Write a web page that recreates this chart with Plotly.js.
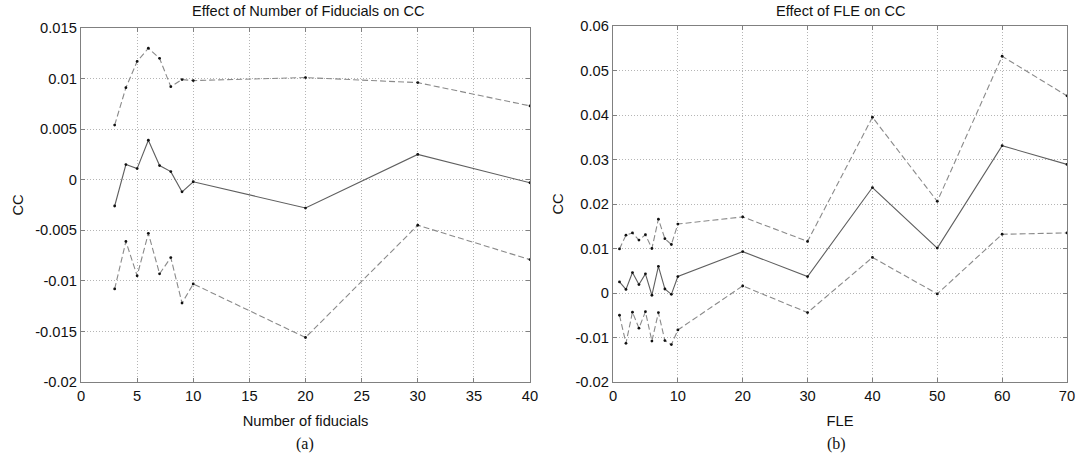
<!DOCTYPE html>
<html>
<head>
<meta charset="utf-8">
<script src="https://cdn.plot.ly/plotly-3.0.1.min.js"></script>
<style>html,body{margin:0;padding:0;background:#fff;}#chart{width:1083px;height:459px;}</style>
</head>
<body>
<div id="chart"></div>
<script>
// Panel (a): effect of number of fiducials
const fidX = [3, 4, 5, 6, 7, 8, 9, 10, 20, 30, 40];
const fidUpper = [0.0054, 0.0091, 0.0117, 0.0130, 0.0120, 0.0092, 0.0099, 0.0098, 0.0101, 0.0096, 0.0073];
const fidMean  = [-0.0026, 0.0015, 0.0011, 0.0039, 0.0014, 0.0008, -0.0012, -0.0002, -0.0028, 0.0025, -0.0003];
const fidLower = [-0.0108, -0.0061, -0.0095, -0.0053, -0.0093, -0.0077, -0.0122, -0.0103, -0.0156, -0.0045, -0.0079];

// Panel (b): effect of FLE
const fleX = [1, 2, 3, 4, 5, 6, 7, 8, 9, 10, 20, 30, 40, 50, 60, 70];
const fleUpper = [0.0099, 0.0130, 0.0135, 0.0119, 0.0131, 0.0100, 0.0166, 0.0122, 0.0109, 0.0155, 0.0171, 0.0116, 0.0395, 0.0206, 0.0532, 0.0443];
const fleMean  = [0.0025, 0.0008, 0.0046, 0.0019, 0.0043, -0.0005, 0.0060, 0.0009, -0.0003, 0.0037, 0.0093, 0.0037, 0.0237, 0.0101, 0.0331, 0.0289];
const fleLower = [-0.0050, -0.0113, -0.0043, -0.0079, -0.0042, -0.0108, -0.0044, -0.0107, -0.0116, -0.0083, 0.0016, -0.0044, 0.0080, -0.0002, 0.0132, 0.0135];

const fidTicks = [0, 5, 10, 15, 20, 25, 30, 35, 40];
const fidYTicks = [-0.02, -0.015, -0.01, -0.005, 0, 0.005, 0.01, 0.015];
const fidYText = ['-0.02', '-0.015', '-0.01', '-0.005', '0', '0.005', '0.01', '0.015'];
const fleTicks = [0, 10, 20, 30, 40, 50, 60, 70];
const fleYTicks = [-0.02, -0.01, 0, 0.01, 0.02, 0.03, 0.04, 0.05, 0.06];
const fleYText = ['-0.02', '-0.01', '0', '0.01', '0.02', '0.03', '0.04', '0.05', '0.06'];

const dashLine = {color: '#8a8a8a', width: 1.1, dash: '6px,3px'};
const solidLine = {color: '#5f5f5f', width: 1.1};
const mk = {color: '#111', size: 2.8};

function tr(x, y, line, xa, ya) {
  return {x: x, y: y, mode: 'lines+markers', line: line, marker: mk, xaxis: xa, yaxis: ya, showlegend: false, hoverinfo: 'x+y'};
}

const data = [
  tr(fidX, fidUpper, dashLine, 'x', 'y'),
  tr(fidX, fidMean, solidLine, 'x', 'y'),
  tr(fidX, fidLower, dashLine, 'x', 'y'),
  tr(fleX, fleUpper, dashLine, 'x2', 'y2'),
  tr(fleX, fleMean, solidLine, 'x2', 'y2'),
  tr(fleX, fleLower, dashLine, 'x2', 'y2')
];

const fam = 'Liberation Sans, Arial, sans-serif';
const font = {family: fam, size: 14.7, color: '#111'};
const tfont = {family: fam, size: 14.7, color: '#111'};
const axBase = {
  showline: true, linecolor: '#808080', linewidth: 1.2, mirror: 'ticks',
  ticks: 'inside', ticklen: 4, tickcolor: '#808080', tickwidth: 1,
  showgrid: true, gridcolor: '#b5b5b5', griddash: '1px,2px', gridwidth: 1,
  zeroline: false, tickfont: font, tickmode: 'array', fixedrange: true
};

const layout = {
  width: 1083, height: 459,
  margin: {l: 0, r: 0, t: 0, b: 0},
  paper_bgcolor: '#fff', plot_bgcolor: '#fff',
  font: font,
  xaxis: Object.assign({}, axBase, {domain: [81/1083, 530/1083], range: [0, 40], tickvals: fidTicks, ticktext: fidTicks.map(String),
    title: {text: 'Number of fiducials', font: tfont, standoff: 12}, anchor: 'y'}),
  yaxis: Object.assign({}, axBase, {domain: [(459-382)/459, (459-28)/459], range: [-0.02, 0.015], tickvals: fidYTicks, ticktext: fidYText,
    title: {text: 'CC', font: tfont, standoff: 8}, anchor: 'x'}),
  xaxis2: Object.assign({}, axBase, {domain: [613/1083, 1067/1083], range: [0, 70], tickvals: fleTicks, ticktext: fleTicks.map(String),
    title: {text: 'FLE', font: tfont, standoff: 12}, anchor: 'y2'}),
  yaxis2: Object.assign({}, axBase, {domain: [(459-382)/459, (459-26)/459], range: [-0.02, 0.06], tickvals: fleYTicks, ticktext: fleYText,
    title: {text: 'CC', font: tfont, standoff: 8}, anchor: 'x2'}),
  annotations: [
    {text: 'Effect of Number of Fiducials on CC', xref: 'paper', yref: 'paper', x: 308/1083, y: (459-11)/459, showarrow: false, xanchor: 'center', yanchor: 'middle', font: {family: fam, size: 14.6, color: '#111'}},
    {text: 'Effect of FLE on CC', xref: 'paper', yref: 'paper', x: 841/1083, y: (459-11)/459, showarrow: false, xanchor: 'center', yanchor: 'middle', font: {family: fam, size: 14.6, color: '#111'}},
    {text: '(a)', xref: 'paper', yref: 'paper', x: 305/1083, y: (459-444)/459, showarrow: false, xanchor: 'center', yanchor: 'middle', font: {family: 'Liberation Serif, Times New Roman, serif', size: 16, color: '#111'}},
    {text: '(b)', xref: 'paper', yref: 'paper', x: 836/1083, y: (459-444)/459, showarrow: false, xanchor: 'center', yanchor: 'middle', font: {family: 'Liberation Serif, Times New Roman, serif', size: 16, color: '#111'}}
  ]
};

Plotly.newPlot('chart', data, layout, {staticPlot: true, displayModeBar: false});
</script>
</body>
</html>
